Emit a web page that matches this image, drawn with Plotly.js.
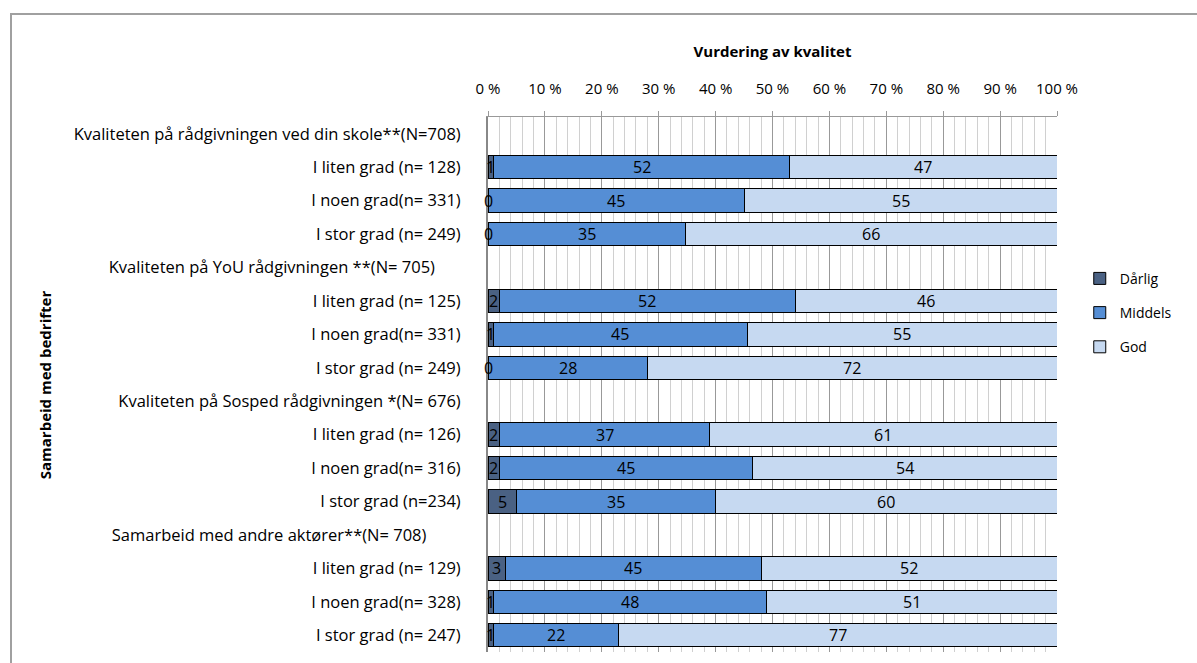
<!DOCTYPE html>
<html>
<head>
<meta charset="utf-8">
<script src="https://cdn.plot.ly/plotly-3.0.1.min.js"></script>
<style>
  html, body { margin: 0; padding: 0; background: #fff; }
  #frame { position: absolute; left: 10px; top: 13px; width: 1200px; height: 700px; border: 2px solid #a0a0a0; box-sizing: border-box; }
  #chart { position: absolute; left: 0; top: 0; width: 1197px; height: 663px; }
</style>
</head>
<body>
<div id="frame"></div>
<div id="chart"></div>
<script>
var NB = '\u00a0';
var rowLabels = [
  'Kvaliteten på rådgivningen ved din skole**(N=708)',
  'I liten grad (n= 128)',
  'I noen grad(n= 331)',
  'I stor grad (n= 249)',
  'Kvaliteten på YoU rådgivningen **(N= 705)' + NB.repeat(6),
  'I liten grad (n= 125)',
  'I noen grad(n= 331)',
  'I stor grad (n= 249)',
  'Kvaliteten på Sosped rådgivningen *(N= 676)',
  'I liten grad (n= 126)',
  'I noen grad(n= 316)',
  'I stor grad (n=234)',
  'Samarbeid med andre aktører**(N= 708)' + NB.repeat(8),
  'I liten grad (n= 129)',
  'I noen grad(n= 328)',
  'I stor grad (n= 247)'
];
var darlig  = [null, 1, 0, 0, null, 2, 1, 0, null, 2, 2, 5, null, 3, 1, 1];
var middels = [null, 52, 45, 35, null, 52, 45, 28, null, 37, 45, 35, null, 45, 48, 22];
var god     = [null, 47, 55, 66, null, 46, 55, 72, null, 61, 54, 60, null, 52, 51, 77];

var seriesNames = ['Dårlig', 'Middels', 'God'];
var seriesData = [darlig, middels, god];
var seriesColors = ['#4a6183', '#558ed5', '#c6d9f1'];

var FONT = '"Open Sans", sans-serif';
var yIdx = rowLabels.map(function (_, i) { return i; });

var traces = seriesData.map(function (vals, s) {
  return {
    type: 'bar', orientation: 'h', name: seriesNames[s],
    y: yIdx, x: vals, legendgroup: 'g' + s,
    marker: { color: seriesColors[s], line: { color: '#000', width: 1 } },
    hoverinfo: 'skip', textposition: 'none'
  };
});

var annotations = [];
yIdx.forEach(function (i) {
  if (darlig[i] === null) return;
  var vals = [darlig[i], middels[i], god[i]];
  var tot = vals[0] + vals[1] + vals[2];
  var cum = 0;
  vals.forEach(function (v) {
    var w = v / tot * 100;
    annotations.push({
      x: cum + w / 2, y: i, xref: 'x', yref: 'y', text: String(v),
      showarrow: false, font: { family: FONT, size: 16, color: '#000' }
    });
    cum += w;
  });
});
annotations.push({
  x: -0.779, y: 0.5, xref: 'paper', yref: 'paper', textangle: -90,
  xanchor: 'center', yanchor: 'middle',
  text: '<b>Samarbeid med bedrifter</b>', showarrow: false,
  font: { family: FONT, size: 15, color: '#000' }
});

var layout = {
  width: 1197, height: 663,
  margin: { l: 488, r: 140, t: 117, b: 11 },
  paper_bgcolor: 'rgba(0,0,0,0)', plot_bgcolor: 'rgba(0,0,0,0)',
  barmode: 'stack', barnorm: 'percent', bargap: 0.3,
  font: { family: FONT, size: 15, color: '#000' },
  xaxis: {
    side: 'top', range: [0, 100], dtick: 10, ticksuffix: ' %',
    showgrid: true, gridcolor: '#999', gridwidth: 1,
    minor: { dtick: 2, showgrid: true, gridcolor: '#d0d0d0', gridwidth: 1 },
    ticks: 'outside', ticklen: 5, tickcolor: '#999',
    ticklabelstandoff: 11,
    showline: true, linecolor: '#999', linewidth: 1,
    zeroline: false, fixedrange: true,
    title: { text: '<b>Vurdering av kvalitet</b>', font: { size: 15 }, standoff: 16 }
  },
  yaxis: {
    autorange: false, range: [15.5, -0.5],
    tickvals: yIdx, ticktext: rowLabels, tickfont: { size: 16.5 },
    ticks: '', ticklabelstandoff: 22,
    showline: true, linecolor: '#888', linewidth: 2,
    showgrid: false, zeroline: false, fixedrange: true
  },
  legend: {
    x: 1.04, y: 0.634, xanchor: 'left', yanchor: 'middle',
    traceorder: 'grouped', tracegroupgap: 13,
    font: { size: 14 }, bgcolor: 'rgba(0,0,0,0)'
  },
  annotations: annotations,
  showlegend: true
};

Plotly.newPlot('chart', traces, layout, { displayModeBar: false, staticPlot: true });
</script>
</body>
</html>
